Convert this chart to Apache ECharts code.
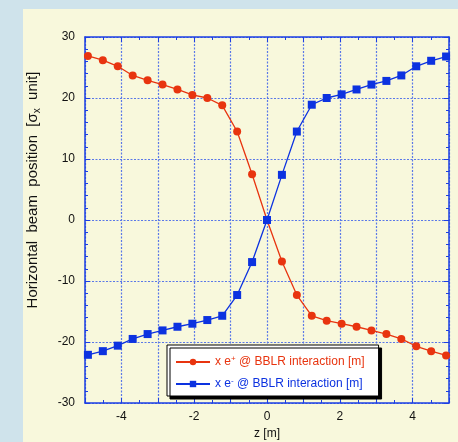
<!DOCTYPE html>
<html><head><meta charset="utf-8">
<script src="https://cdn.jsdelivr.net/npm/echarts@6/dist/echarts.min.js"></script>
<style>html,body{margin:0;padding:0;background:#cfe3eb;}#c{width:458px;height:442px;}</style>
</head><body><div id="c"></div>
<script>
const zPositions = [-4.92,-4.51,-4.10,-3.69,-3.28,-2.87,-2.46,-2.05,-1.64,-1.23,-0.82,-0.41,0,0.41,0.82,1.23,1.64,2.05,2.46,2.87,3.28,3.69,4.10,4.51,4.92];
const xPositron = [26.9,26.2,25.2,23.7,22.9,22.2,21.4,20.5,20.0,18.8,14.5,7.5,0,-6.8,-12.3,-15.7,-16.5,-17.0,-17.5,-18.1,-18.7,-19.5,-20.7,-21.5,-22.2];
const xElectron = [-22.1,-21.5,-20.6,-19.5,-18.7,-18.1,-17.5,-17.0,-16.4,-15.7,-12.3,-6.9,0,7.4,14.5,18.9,20.0,20.6,21.4,22.2,22.8,23.7,25.2,26.1,26.8];
const seriesNames = ['x e+ @ BBLR interaction [m]','x e- @ BBLR interaction [m]'];
const xTicks = [-4,-2,0,2,4];

const RED = '#e8340f', BLUE = '#0c32e0', AX = '#1d3fe2';
const font = 'Liberation Sans, Arial, Helvetica, sans-serif';
const chart = echarts.init(document.getElementById('c'), null, {renderer:'canvas'});
const gridStyle = {show:true, lineStyle:{color:'#5a78e8', type:[2,1.5], width:1.2}};
const axLine = {show:true, onZero:false, lineStyle:{color:AX, width:1.5}};
const axTick = {show:true, inside:true, length:5, lineStyle:{color:AX, width:1}};
chart.setOption({
  backgroundColor:'#cfe3eb',
  animation:false,
  graphic:[
    {type:'rect', z:-10, shape:{x:23,y:9,width:435,height:433}, style:{fill:'#f8f8dc'}},
    {type:'text', x:33, y:190, rotation:Math.PI/2, z:10,
      style:{text:'{a|Horizontal  beam  position  [σ}{s|x}{a|  unit]}', align:'center', verticalAlign:'middle',
        rich:{a:{fontSize:15, fontFamily:font, fill:'#111'}, s:{fontSize:10, fontFamily:font, fill:'#111', verticalAlign:'bottom', padding:[8,0,0,0]}}}}
  ],
  grid:{left:85, top:37, width:364, height:366, containLabel:false, outerBoundsMode:'none'},
  legend:{
    orient:'vertical', left:167, top:345, itemWidth:34, itemHeight:8, itemGap:9,
    padding:[10,14,6,8],
    backgroundColor:'#ffffff', borderColor:'#000', borderWidth:1,
    shadowColor:'#000', shadowOffsetX:3, shadowOffsetY:3, shadowBlur:0,
    data:seriesNames,
    formatter:function(n){
      if(n===seriesNames[0]) return '{r|x e}{rs|+}{r| @ BBLR interaction [m]}';
      return '{b|x e}{bs|-}{b| @ BBLR interaction [m]}';
    },
    textStyle:{fontSize:12, fontFamily:font,
      rich:{
        r:{color:RED, fontSize:12, fontFamily:font},
        rs:{color:RED, fontSize:8, fontFamily:font, verticalAlign:'top', padding:[0,0,6,0]},
        b:{color:BLUE, fontSize:12, fontFamily:font},
        bs:{color:BLUE, fontSize:8, fontFamily:font, verticalAlign:'top', padding:[0,0,6,0]}
      }}
  },
  xAxis:[
    {type:'value', min:-5, max:5, interval:1, position:'bottom',
      name:'z [m]', nameLocation:'middle', nameGap:24, nameTextStyle:{fontSize:12, fontFamily:font, color:'#111'},
      axisLine:axLine, axisTick:axTick,
      minorTick:{show:true, splitNumber:2, length:3, lineStyle:{color:AX}},
      axisLabel:{fontSize:12, fontFamily:font, color:'#111', margin:8,
        formatter:function(v){ return xTicks.indexOf(v)>=0 ? String(v) : ''; }},
      splitLine:gridStyle},
    {type:'value', min:-5, max:5, interval:1, position:'top',
      axisLine:axLine, axisTick:axTick,
      minorTick:{show:true, splitNumber:2, length:3, lineStyle:{color:AX}},
      axisLabel:{show:false}, splitLine:{show:false}}
  ],
  yAxis:[
    {type:'value', min:-30, max:30, interval:10, position:'left',
      axisLine:axLine, axisTick:axTick,
      minorTick:{show:true, splitNumber:5, length:3, lineStyle:{color:AX}},
      axisLabel:{fontSize:12, fontFamily:font, color:'#111', margin:10},
      splitLine:gridStyle},
    {type:'value', min:-30, max:30, interval:10, position:'right',
      axisLine:axLine, axisTick:axTick,
      minorTick:{show:true, splitNumber:5, length:3, lineStyle:{color:AX}},
      axisLabel:{show:false}, splitLine:{show:false}}
  ],
  series:[
    {name:seriesNames[0], type:'line', xAxisIndex:0, yAxisIndex:0,
      data:zPositions.map((z,i)=>[z,xPositron[i]]),
      symbol:'circle', symbolSize:8, itemStyle:{color:RED}, lineStyle:{color:RED, width:1.3}, z:3},
    {name:seriesNames[1], type:'line', xAxisIndex:0, yAxisIndex:0,
      data:zPositions.map((z,i)=>[z,xElectron[i]]),
      symbol:'rect', symbolSize:8, itemStyle:{color:BLUE}, lineStyle:{color:BLUE, width:1.3}, z:4}
  ]
});
</script></body></html>
